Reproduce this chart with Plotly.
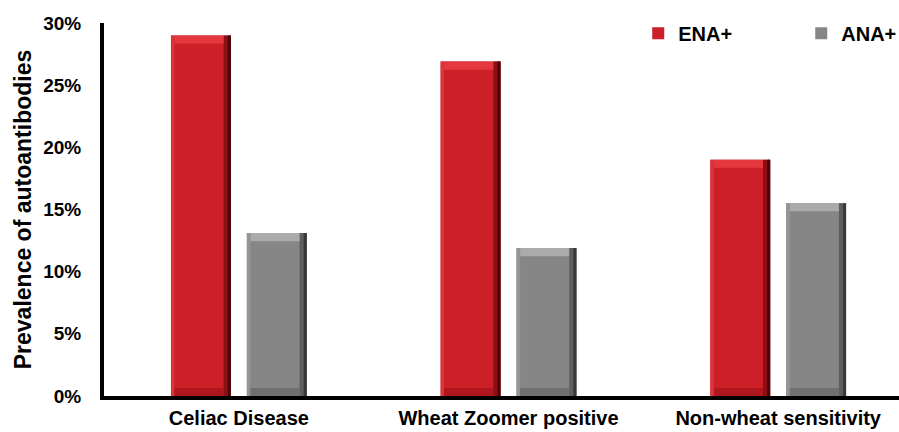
import plotly.graph_objects as go

# Data
categories = ["Celiac Disease", "Wheat Zoomer positive", "Non-wheat sensitivity"]
ena_values = [29.0, 26.9, 19.0]
ana_values = [13.1, 11.9, 15.5]
series_names = ["ENA+", "ANA+"]
y_ticks = [0, 5, 10, 15, 20, 25, 30]
y_tick_text = ["0%", "5%", "10%", "15%", "20%", "25%", "30%"]

positions = list(range(len(categories)))

FONT = "Arial, Liberation Sans, sans-serif"
BAR_W = 0.222
CENTER = 0.1407
BEVEL = 0.65  # height of the top/bottom bevel bands (percent units)

styles = {
    "ENA+": dict(main="#cc1f28", top="#e5383e", bottom="#b0161d", left="#d8343a",
                 right1="#8a1016", right2="#4a0608"),
    "ANA+": dict(main="#868686", top="#ababab", bottom="#707070", left="#949494",
                 right1="#5e5e5e", right2="#383838"),
}

fig = go.Figure()


def add_bevel_bar(name, values, centre):
    st = styles[name]
    start = centre - BAR_W / 2
    # body
    fig.add_trace(go.Bar(
        x=positions, y=values, name=name, offset=start, width=BAR_W,
        marker=dict(color=st["main"], line=dict(width=0)), showlegend=True,
        hovertext=categories, hoverinfo="text+y",
    ))
    # left highlight strip
    fig.add_trace(go.Bar(
        x=positions, y=values, offset=start, width=BAR_W * 0.06,
        marker=dict(color=st["left"], line=dict(width=0)), showlegend=False,
        hoverinfo="skip",
    ))
    # right shadow strips
    fig.add_trace(go.Bar(
        x=positions, y=values, offset=start + BAR_W * 0.88, width=BAR_W * 0.12,
        marker=dict(color=st["right1"], line=dict(width=0)), showlegend=False,
        hoverinfo="skip",
    ))
    fig.add_trace(go.Bar(
        x=positions, y=values, offset=start + BAR_W * 0.95, width=BAR_W * 0.05,
        marker=dict(color=st["right2"], line=dict(width=0)), showlegend=False,
        hoverinfo="skip",
    ))
    # top highlight band
    fig.add_trace(go.Bar(
        x=positions, y=[BEVEL] * len(values), base=[v - BEVEL for v in values],
        offset=start + BAR_W * 0.06, width=BAR_W * 0.82,
        marker=dict(color=st["top"], line=dict(width=0)), showlegend=False,
        hoverinfo="skip",
    ))
    # bottom shade band
    fig.add_trace(go.Bar(
        x=positions, y=[BEVEL] * len(values), base=[0] * len(values),
        offset=start + BAR_W * 0.06, width=BAR_W * 0.82,
        marker=dict(color=st["bottom"], line=dict(width=0)), showlegend=False,
        hoverinfo="skip",
    ))


add_bevel_bar("ENA+", ena_values, -CENTER)
add_bevel_bar("ANA+", ana_values, CENTER)

fig.update_layout(
    width=899, height=432,
    margin=dict(l=104, r=0, t=23, b=36, autoexpand=False),
    barmode="overlay",
    paper_bgcolor="white", plot_bgcolor="white",
    font=dict(family=FONT, color="black"),
    legend=dict(
        orientation="h", x=0.672, y=1.025, xanchor="left", yanchor="top",
        font=dict(family=FONT, size=20, color="black", weight="bold"),
        bgcolor="rgba(0,0,0,0)", itemwidth=30, traceorder="normal",
        entrywidth=118,
    ),
    xaxis=dict(
        range=[-0.5, 2.448], showgrid=False, zeroline=False,
        showline=True, linecolor="black", linewidth=4,
        tickvals=positions, ticktext=categories,
        tickfont=dict(family=FONT, size=20, color="black", weight="bold"),
        ticks="", ticklabelstandoff=1, fixedrange=True,
    ),
    yaxis=dict(
        range=[0, 30], tickvals=y_ticks, ticktext=y_tick_text,
        showgrid=False, zeroline=False, showline=True, linecolor="black",
        linewidth=4, ticks="", ticklabelstandoff=15,
        tickfont=dict(family=FONT, size=19, color="black", weight="bold"),
        title=dict(text="Prevalence of autoantibodies", standoff=6,
                   font=dict(family=FONT, size=23, color="black", weight="bold")),
        fixedrange=True,
    ),
)

fig.write_html("out.html")
